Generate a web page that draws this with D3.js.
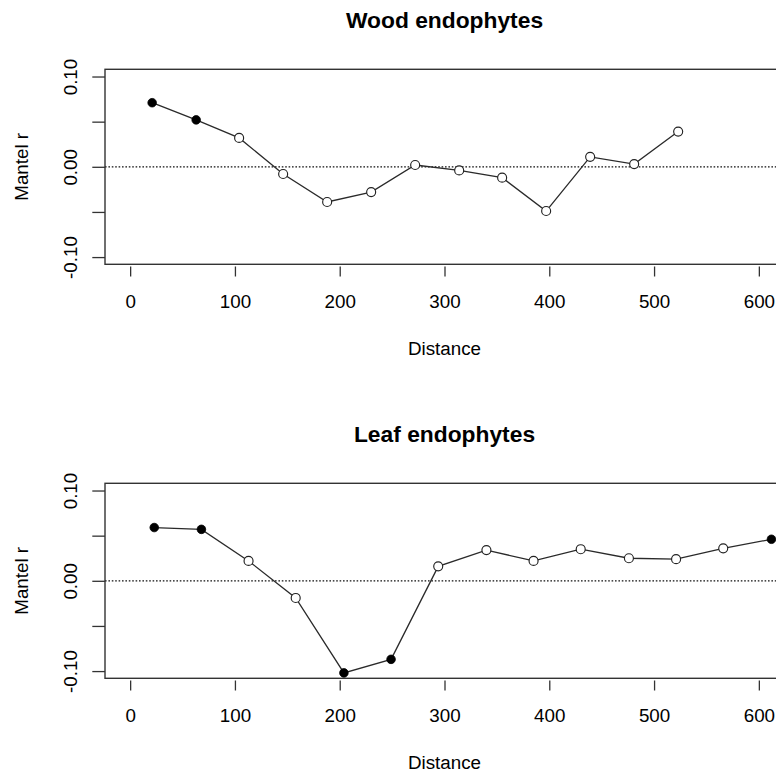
<!DOCTYPE html>
<html>
<head>
<meta charset="utf-8">
<script src="https://cdn.jsdelivr.net/npm/d3@7"></script>
<style>
  html, body { margin: 0; padding: 0; background: #fff; }
  svg { display: block; font-family: "Liberation Sans", Arial, Helvetica, sans-serif; }
</style>
</head>
<body>
<svg id="chart" width="776" height="772"></svg>
<script>
// ---- data ----
const woodTitle = "Wood endophytes";
const woodDistance = [21, 63, 104, 146, 188, 230, 272, 314, 355, 397, 439, 481, 523];
const woodMantel = [0.071, 0.052, 0.032, -0.008, -0.039, -0.028, 0.002, -0.004, -0.012, -0.049, 0.011, 0.003, 0.039];
const woodSignif = [1, 1, 0, 0, 0, 0, 0, 0, 0, 0, 0, 0, 0];

const leafTitle = "Leaf endophytes";
const leafDistance = [23, 68, 113, 158, 204, 249, 294, 340, 385, 430, 476, 521, 566, 612];
const leafMantel = [0.059, 0.057, 0.022, -0.019, -0.102, -0.087, 0.016, 0.034, 0.022, 0.035, 0.025, 0.024, 0.036, 0.046];
const leafSignif = [1, 1, 0, 0, 1, 1, 0, 0, 0, 0, 0, 0, 0, 1];

const xTicks = [0, 100, 200, 300, 400, 500, 600];
const yTicks = [-0.10, -0.05, 0.00, 0.05, 0.10];
const yTickLabels = ["-0.10", "", "0.00", "", "0.10"];
const xLabel = "Distance";
const yLabel = "Mantel r";

// ---- layout ----
const svg = d3.select("#chart");
const W = 776;
const plotLeft = 105, plotRight = 784;
const panelTops = [69.3, 483.3];
const plotH = 195;

const x = d3.scaleLinear().domain([-24, 624]).range([plotLeft, plotRight]);

svg.append("defs").append("clipPath").attr("id", "clipAll")
  .append("rect").attr("x", 0).attr("y", 0).attr("width", W).attr("height", 772);

function panel(top, title, dist, vals, sig) {
  const g = svg.append("g").attr("clip-path", "url(#clipAll)");
  const y = d3.scaleLinear().domain([-0.108, 0.108]).range([top + plotH, top]);

  // title
  g.append("text").attr("x", x(300)).attr("y", top - 41.3)
    .attr("text-anchor", "middle").attr("font-size", 22.8).attr("font-weight", "bold")
    .attr("fill", "#000").text(title);

  // zero reference line
  g.append("line").attr("x1", plotLeft).attr("x2", plotRight)
    .attr("y1", y(0)).attr("y2", y(0))
    .attr("stroke", "#111").attr("stroke-width", 1.3).attr("stroke-dasharray", "1.6,1.8");

  // x axis
  const xa = g.append("g").attr("transform", `translate(0,${top + plotH + 2.2})`)
    .call(d3.axisBottom(x).tickValues(xTicks).tickSize(10).tickFormat(d3.format("d")));
  xa.select(".domain").remove();
  xa.selectAll(".tick line").attr("stroke", "#333").attr("stroke-width", 1.3);
  xa.selectAll(".tick text").attr("y", 41.8).attr("dy", 0)
    .attr("font-size", 18.8).attr("fill", "#000").attr("font-family", null);

  // y axis
  const ya = g.append("g").attr("transform", `translate(${plotLeft},0)`)
    .call(d3.axisLeft(y).tickValues(yTicks).tickSize(12.7)
      .tickFormat((d, i) => yTickLabels[i]));
  ya.select(".domain").remove();
  ya.selectAll(".tick line").attr("stroke", "#333").attr("stroke-width", 1.3);
  ya.selectAll(".tick text").attr("x", null).attr("dy", 0)
    .attr("transform", "translate(-28.3,0) rotate(-90)")
    .attr("text-anchor", "middle")
    .attr("font-size", 18.8).attr("fill", "#000").attr("font-family", null);

  // axis titles
  g.append("text").attr("x", x(300)).attr("y", top + plotH + 90.7)
    .attr("text-anchor", "middle").attr("font-size", 18.8).attr("fill", "#000").text(xLabel);
  g.append("text")
    .attr("transform", `translate(28.3,${y(0)}) rotate(-90)`)
    .attr("text-anchor", "middle").attr("font-size", 18.8).attr("fill", "#000").text(yLabel);

  // box
  g.append("rect").attr("x", plotLeft).attr("y", top).attr("width", plotRight - plotLeft).attr("height", plotH)
    .attr("fill", "none").attr("stroke", "#333").attr("stroke-width", 1.4);

  // line
  const pts = dist.map((d, i) => ({ d, v: vals[i], s: sig[i] }));
  g.append("path").datum(pts)
    .attr("d", d3.line().x(p => x(p.d)).y(p => y(p.v)))
    .attr("fill", "none").attr("stroke", "#2a2a2a").attr("stroke-width", 1.3);

  // points
  g.selectAll("circle.pt").data(pts).join("circle")
    .attr("class", "pt")
    .attr("cx", p => x(p.d)).attr("cy", p => y(p.v))
    .attr("r", p => p.s ? 4.3 : 4.5)
    .attr("fill", p => p.s ? "#000" : "#fff")
    .attr("stroke", p => p.s ? "#000" : "#222")
    .attr("stroke-width", p => p.s ? 0.8 : 1.15);
}

panel(panelTops[0], woodTitle, woodDistance, woodMantel, woodSignif);
panel(panelTops[1], leafTitle, leafDistance, leafMantel, leafSignif);
</script>
</body>
</html>
